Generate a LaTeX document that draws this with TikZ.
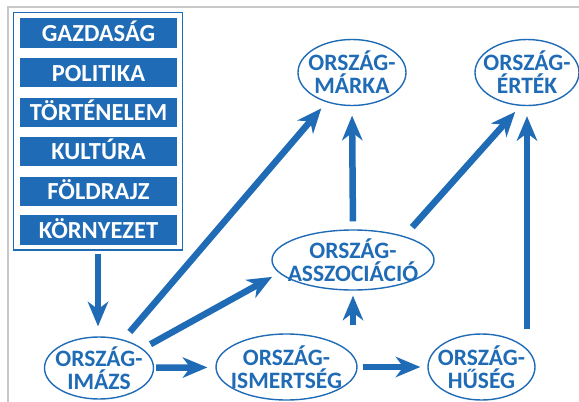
\documentclass[tikz,border=0pt]{standalone}
\usepackage{fontspec}
\setmainfont{Carlito}
\usetikzlibrary{shapes.geometric,arrows.meta}
\definecolor{cblue}{HTML}{1F6BB5}
\definecolor{cgray}{HTML}{C8C8C8}
\begin{document}
\begin{tikzpicture}[x=1pt,y=-1pt,
  ell/.style={ellipse,draw=cblue,line width=1.4pt,inner sep=0pt},
  lbl/.style={text=cblue,font=\bfseries\fontsize{23.5}{23}\selectfont,align=center,inner sep=0pt},
  bar/.style={fill=cblue,minimum width=157pt,minimum height=29.3pt,inner sep=0pt,text=white,
    text height=17pt,text depth=0pt,font=\bfseries\fontsize{24.5}{24}\selectfont},
  arr/.style={draw=cblue,line width=6.5pt,-{Stealth[length=25pt,width=21pt,inset=8pt,line width=0pt]}}]
\useasboundingbox (0,0) rectangle (579,402);
\draw[cgray,line width=2pt] (8.3,402) -- (8.3,6.5) -- (579,6.5);
% factor box
\node[draw=cblue,line width=1.3pt,minimum width=169.4pt,minimum height=237.3pt,inner sep=0pt] (factors) at (98,131.35) {};
\node[bar] (b1) at (98.5,33) {GAZDASÁG};
\node[bar] (b2) at (98.5,72.7) {POLITIKA};
\node[bar] (b3) at (98.5,112.3) {TÖRTÉNELEM};
\node[bar] (b4) at (98.5,151.2) {KULTÚRA};
\node[bar] (b5) at (98.5,191.2) {FÖLDRAJZ};
\node[bar] (b6) at (98.5,230) {KÖRNYEZET};
% ellipses
\node[ell,minimum width=108pt,minimum height=66pt] (marka) at (352,72.5) {};
\node[lbl] (markat) at (marka) {ORSZÁG-\\MÁRKA};
\node[ell,minimum width=104pt,minimum height=66pt] (ertek) at (527,72.5) {};
\node[lbl] (ertekt) at (ertek) {ORSZÁG-\\ÉRTÉK};
\node[ell,minimum width=162pt,minimum height=60pt] (asszoc) at (353,260) {};
\node[lbl] (asszoct) at (asszoc) {ORSZÁG-\\ASSZOCIÁCIÓ};
\node[ell,minimum width=109pt,minimum height=62pt] (imazs) at (99,368) {};
\node[lbl] (imazst) at (imazs) {ORSZÁG-\\IMÁZS};
\node[ell,minimum width=141pt,minimum height=66pt] (ismert) at (286.5,367) {};
\node[lbl] (ismertt) at (ismert) {ORSZÁG-\\ISMERTSÉG};
\node[ell,minimum width=107pt,minimum height=66pt] (hus) at (481.5,367) {};
\node[lbl] (hust) at (hus) {ORSZÁG-\\HŰSÉG};
% connectors
\draw[arr,shorten <=3pt,shorten >=10pt] (factors.south) -- (factors.south |- imazs.north);
\draw[arr,shorten <=10pt,shorten >=8pt] (imazs) -- (marka);
\draw[arr,shorten <=9pt,shorten >=8pt] (imazs.24) -- (asszoc.190);
\draw[arr,shorten <=2pt,shorten >=8pt] (imazs) -- (ismert);
\draw[arr,shorten <=8pt,shorten >=9.5pt] (asszoc.north) -- (marka.south);
\draw[arr,shorten <=12pt,shorten >=8pt] (asszoc.25) -- (ertek.259);
\draw[arr,shorten <=8pt,shorten >=5pt] (asszoc.south |- ismert.north) -- (asszoc.south);
\draw[arr,shorten <=5pt,shorten >=7pt] (ismert) -- (hus);
\draw[arr,shorten <=4pt,shorten >=10pt] (ertek.south |- hus.north) -- (ertek.south);
\end{tikzpicture}
\end{document}
